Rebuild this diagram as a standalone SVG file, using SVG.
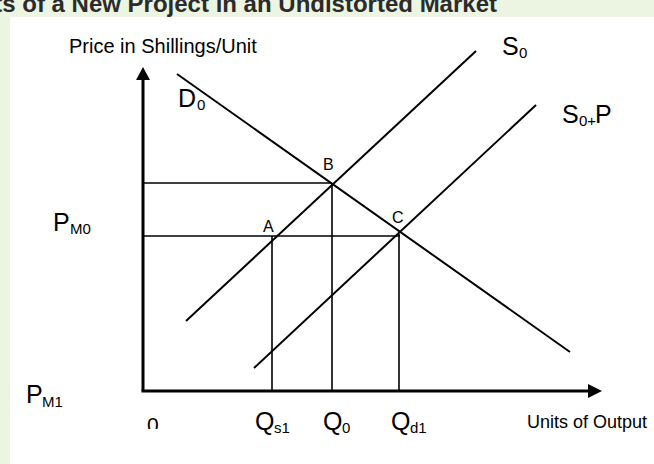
<svg xmlns="http://www.w3.org/2000/svg" width="654" height="464" viewBox="0 0 654 464">
<style>
text{font-family:"Liberation Sans",Arial,sans-serif;fill:#000}
.big{font-size:25px}
.sub{font-size:15px}
.pt{font-size:16px}
.curve{stroke:#000;stroke-width:2;fill:none}
.guide{stroke:#000;stroke-width:1.6;fill:none}
.axis{stroke:#000;stroke-width:3;fill:none}
</style>
<defs>
<clipPath id="clip0"><rect x="130" y="405" width="40" height="24"/></clipPath>
</defs>
<rect width="654" height="464" fill="#fff"/>
<rect x="0" y="0" width="654" height="17" fill="#ecf4e2"/>
<rect x="0" y="0" width="10" height="464" fill="#ecf4e2"/>
<text x="497" y="12" text-anchor="end" style="font-size:24px;font-weight:bold;fill:#2b2b2b">ts of a New Project in an Undistorted Market</text>
<g id="axes">
<line class="axis" x1="143" y1="78" x2="143" y2="391"/>
<line class="axis" x1="141.5" y1="391" x2="590" y2="391"/>
<polygon points="143,67 136,80 150,80" fill="#000"/>
<polygon points="602,391 588,384 588,398" fill="#000"/>
</g>
<g id="connectors">
<line class="guide" x1="143" y1="183" x2="332" y2="183"/>
<line class="guide" x1="143" y1="236" x2="400" y2="236"/>
<line class="guide" x1="272" y1="236" x2="272" y2="391"/>
<line class="guide" x1="332" y1="183" x2="332" y2="391"/>
<line class="guide" x1="399" y1="234" x2="399" y2="391"/>
</g>
<g id="D0">
<line class="curve" x1="177" y1="74" x2="570" y2="352"/>
<text class="big" x="178" y="107">D<tspan class="sub" x="197" y="110">0</tspan></text>
</g>
<g id="S0">
<line class="curve" x1="186" y1="321" x2="476" y2="51"/>
<text class="big" x="502" y="55">S<tspan class="sub" x="519" y="58">0</tspan></text>
</g>
<g id="S0P">
<line class="curve" x1="254" y1="368" x2="536" y2="105"/>
<text class="big" x="562" y="123">S<tspan class="sub" x="579" y="126">0+</tspan><tspan x="595" y="123">P</tspan></text>
</g>
<g id="points">
<text class="pt" x="263" y="232">A</text>
<text class="pt" x="323" y="170">B</text>
<text class="pt" x="392" y="223">C</text>
</g>
<g id="labels">
<text x="69" y="53" style="font-size:20px">Price in Shillings/Unit</text>
<text class="big" x="53" y="231">P<tspan class="sub" x="70" y="234">M0</tspan></text>
<text class="big" x="26" y="403">P<tspan class="sub" x="42" y="407">M1</tspan></text>
<text x="147" y="432" clip-path="url(#clip0)" style="font-size:21px">0</text>
<text class="big" x="255" y="430">Q<tspan class="sub" x="274" y="433">s1</tspan></text>
<text class="big" x="323" y="430">Q<tspan class="sub" x="342" y="433">0</tspan></text>
<text class="big" x="391" y="430">Q<tspan class="sub" x="410" y="433">d1</tspan></text>
<text x="527" y="428" style="font-size:18px">Units of Output</text>
</g>
</svg>
